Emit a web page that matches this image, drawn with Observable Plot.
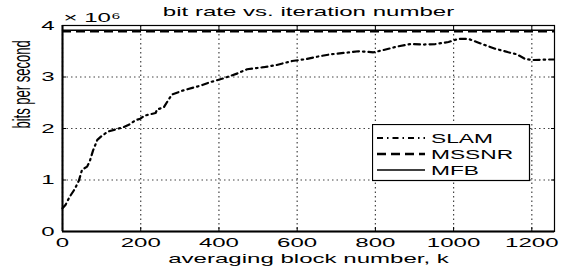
<!DOCTYPE html>
<html><head><meta charset="utf-8">
<script src="https://cdn.jsdelivr.net/npm/d3@7"></script>
<script src="https://cdn.jsdelivr.net/npm/@observablehq/plot@0.6"></script>
<style>
body{margin:0;background:#fff;}
#wrap{position:relative;width:565px;height:268px;overflow:hidden;}
#legend{position:absolute;left:372px;top:124px;}
</style></head><body><div id="wrap"></div>
<script>
// ---- data (rates in units of 10^6 bits per second) ----
const slamK    = [0, 8, 18, 31, 42, 50, 63, 70, 78, 89, 101, 116, 135, 157, 174, 186, 199, 210, 238, 242, 259, 267, 280, 309, 352, 378, 410, 444, 472, 514, 546, 587, 625, 655, 685, 723, 757, 795, 819, 855, 889, 923, 953, 987, 1012, 1038, 1059, 1080, 1106, 1140, 1162, 1183, 1204, 1246, 1256];
const slamRate = [0.45, 0.52, 0.67, 0.82, 0.99, 1.20, 1.26, 1.37, 1.57, 1.78, 1.86, 1.94, 1.98, 2.03, 2.09, 2.16, 2.19, 2.25, 2.30, 2.37, 2.41, 2.51, 2.66, 2.74, 2.83, 2.90, 2.97, 3.06, 3.15, 3.19, 3.23, 3.31, 3.35, 3.40, 3.44, 3.47, 3.50, 3.48, 3.52, 3.59, 3.64, 3.63, 3.64, 3.68, 3.74, 3.74, 3.68, 3.62, 3.55, 3.48, 3.44, 3.35, 3.33, 3.34, 3.34];
const mssnrRate = 3.89;
const mfbRate   = 3.91;
const kMax = 1258;
const xTicks = [0, 200, 400, 600, 800, 1000, 1200];
const yTicks = [0, 1, 2, 3, 4];
const seriesNames = ["SLAM", "MSSNR", "MFB"];
const titleText = "bit rate vs. iteration number";
const xLabel = "averaging block number, k";
const yLabel = "bits per second";
const exponentText = "× 10⁶";

const slam = slamK.map((k, i) => ({k, v: slamRate[i]}));
const S = 1.85; // horizontal glyph stretch seen in the reference

const dashSLAM = "6,4,1.5,4";
const dashMSSNR = "9,5";
const plain = d => String(d);

const chart = Plot.plot({
  width: 565, height: 268,
  marginLeft: 62, marginRight: 11, marginTop: 25, marginBottom: 37,
  style: {fontFamily: "'Liberation Sans', Arial, Helvetica, sans-serif", fontSize: "13px", color: "#000", background: "#fff"},
  x: {domain: [0, kMax]},
  y: {domain: [0, 4]},
  marks: [
    Plot.ruleX(xTicks, {stroke: "#444", strokeWidth: 1.2, strokeDasharray: "1.5,3"}),
    Plot.ruleY(yTicks, {stroke: "#444", strokeWidth: 1.2, strokeDasharray: "1.5,3"}),
    Plot.ruleY([mfbRate], {stroke: "#000", strokeWidth: 1.5}),
    Plot.ruleY([mssnrRate], {stroke: "#000", strokeWidth: 2.5, strokeDasharray: dashMSSNR}),
    Plot.line(slam, {x: "k", y: "v", stroke: "#000", strokeWidth: 2.2, strokeDasharray: dashSLAM}),
    Plot.frame({stroke: "#000", strokeWidth: 1.2}),
    Plot.ruleX([0], {stroke: "#000", strokeWidth: 2}),
    Plot.ruleY([0], {stroke: "#000", strokeWidth: 2}),
    Plot.axisX(xTicks, {anchor: "bottom", tickSize: -4, tickPadding: 10.5, tickFormat: plain, label: null}),
    Plot.axisX(xTicks, {anchor: "top", tickSize: -4, tickFormat: () => "", label: null}),
    Plot.axisY(yTicks, {anchor: "left", tickSize: -4, tickPadding: 12, tickFormat: plain, label: null}),
    Plot.axisY(yTicks, {anchor: "right", tickSize: -4, tickFormat: () => "", label: null}),
    Plot.text([titleText], {frameAnchor: "top", lineAnchor: "bottom", dy: -10, fill: "#000"}),
    Plot.text([exponentText], {frameAnchor: "top-left", textAnchor: "start", lineAnchor: "bottom", dx: 1, dy: -3.5, fill: "#000"}),
    Plot.text([xLabel], {frameAnchor: "bottom", lineAnchor: "bottom", dy: 31, fill: "#000"}),
    Plot.text([yLabel], {frameAnchor: "left", rotate: -90, dx: -40, fill: "#000"})
  ]
});

chart.querySelectorAll("text").forEach(t => {
  let tr = t.getAttribute("transform") || "";
  const x = t.getAttribute("x");
  if (x != null && !isNaN(+x)) { tr += ` translate(${+x},0)`; t.removeAttribute("x"); }
  tr += /rotate/.test(tr) ? ` scale(1,${S})` : ` scale(${S},1)`;
  t.setAttribute("transform", tr);
});

const wrap = document.getElementById("wrap");
wrap.appendChild(chart);

// legend overlay
const ns = "http://www.w3.org/2000/svg";
const lg = document.createElementNS(ns, "svg");
lg.setAttribute("id", "legend");
lg.setAttribute("width", 159); lg.setAttribute("height", 58);
lg.style.fontFamily = "'Liberation Sans', Arial, Helvetica, sans-serif";
lg.style.fontSize = "13px";
const box = document.createElementNS(ns, "rect");
box.setAttribute("x", 0.5); box.setAttribute("y", 0.5); box.setAttribute("width", 157); box.setAttribute("height", 56);
box.setAttribute("fill", "#fff"); box.setAttribute("stroke", "#000"); box.setAttribute("stroke-width", 1.2);
lg.appendChild(box);
const styles = [{dash: dashSLAM, w: 2.2}, {dash: dashMSSNR, w: 2.5}, {dash: null, w: 1.5}];
seriesNames.forEach((name, i) => {
  const yy = 14 + i * 16;
  const ln = document.createElementNS(ns, "line");
  ln.setAttribute("x1", 5); ln.setAttribute("x2", 53); ln.setAttribute("y1", yy); ln.setAttribute("y2", yy);
  ln.setAttribute("stroke", "#000"); ln.setAttribute("stroke-width", styles[i].w);
  if (styles[i].dash) ln.setAttribute("stroke-dasharray", styles[i].dash);
  lg.appendChild(ln);
  const tx = document.createElementNS(ns, "text");
  tx.setAttribute("transform", `translate(59,${yy + 5}) scale(1.75,1)`);
  tx.textContent = name;
  lg.appendChild(tx);
});
wrap.appendChild(lg);
</script></body></html>
